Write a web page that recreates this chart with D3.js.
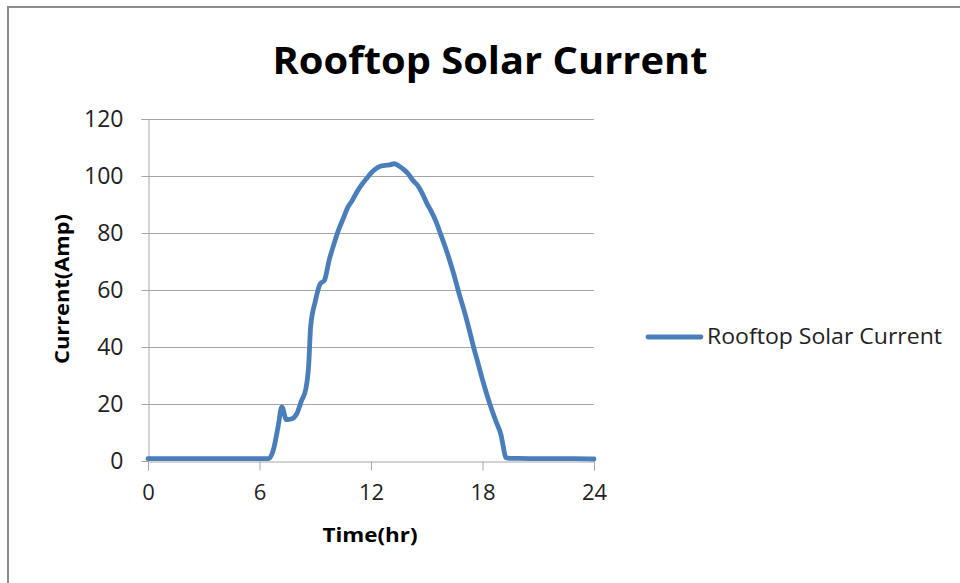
<!DOCTYPE html>
<html>
<head>
<meta charset="utf-8">
<script src="https://cdn.jsdelivr.net/npm/d3@7"></script>
<style>
  html, body { margin: 0; padding: 0; background: #fff; }
  svg { display: block; }
  text { font-family: "Open Sans", "Noto Sans", sans-serif; fill: #222; }
</style>
</head>
<body>
<svg id="chart" width="960" height="583"></svg>
<script>
// Hour of day
const hours = [
  0, 1, 2, 3, 4, 5, 6, 6.5, 6.75, 7.0, 7.2, 7.45, 7.75, 8.0, 8.25, 8.5, 8.65, 8.75,
  9.0, 9.25, 9.5, 9.75, 10.0, 10.25, 10.5, 10.75, 11.0, 11.25, 11.5, 11.75,
  12.0, 12.25, 12.5, 12.75, 13.0, 13.25, 13.5, 13.75, 14.0, 14.25, 14.5, 14.75,
  15.0, 15.25, 15.5, 15.75, 16.0, 16.25, 16.5, 16.75, 17.0, 17.25, 17.5, 17.75,
  18.0, 18.25, 18.5, 18.75, 19.0, 19.12, 19.25, 19.5, 20, 21, 22, 23, 24
];
// Rooftop solar current (A)
const current = [
  0.8, 0.8, 0.8, 0.8, 0.8, 0.8, 0.8, 0.8, 4, 12, 19, 14.5, 14.8, 16.5, 21, 25.5, 34, 47,
  56, 62, 63.5, 70.5, 76, 81, 85, 89, 91.5, 94.5, 97, 99,
  101, 102.5, 103.4, 103.7, 103.9, 104.3, 103.5, 102.3, 100.8, 98.5, 96.8, 94,
  90.5, 87.5, 84, 79.5, 75, 70, 64.5, 58.5, 53, 47, 40.5, 34.5,
  28.5, 23, 18, 13.5, 9, 5, 1.2, 0.9, 0.9, 0.8, 0.8, 0.8, 0.7
];
const xTicks = [0, 6, 12, 18, 24];
const yTicks = [0, 20, 40, 60, 80, 100, 120];
const chartTitle = "Rooftop Solar Current";
const seriesName = "Rooftop Solar Current";
const xTitle = "Time(hr)";
const yTitle = "Current(Amp)";

const svg = d3.select("#chart");
const lineColor = "#4a7ebb";
const gridColor = "#a6a6a6";

// Chart frame
svg.append("path")
  .attr("d", "M8,590 L8,7 L970,7")
  .attr("fill", "none")
  .attr("stroke", "#8c8c8c")
  .attr("stroke-width", 2);

const plot = { left: 148, right: 594, top: 119, bottom: 461 };
const x = d3.scaleLinear().domain([0, 24]).range([plot.left, plot.right]);
const y = d3.scaleLinear().domain([0, 120]).range([plot.bottom, plot.top]);

// Horizontal gridlines
svg.append("g")
  .selectAll("line")
  .data(yTicks.filter(d => d > 0))
  .join("line")
  .attr("x1", plot.left).attr("x2", plot.right)
  .attr("y1", d => Math.round(y(d)) + 0.5).attr("y2", d => Math.round(y(d)) + 0.5)
  .attr("stroke", gridColor).attr("stroke-width", 1);

// Y axis
const yAxis = svg.append("g")
  .attr("transform", `translate(${plot.left + 0.5},0)`)
  .call(d3.axisLeft(y).tickValues(yTicks).tickSize(7).tickPadding(18).tickFormat(d3.format("d")));
yAxis.select(".domain").attr("stroke", gridColor);
yAxis.selectAll(".tick line").attr("stroke", gridColor);
yAxis.selectAll(".tick text")
  .attr("font-size", 23).attr("fill", "#222")
  .style("font-family", "'Open Sans', sans-serif");

// X axis
const xAxis = svg.append("g")
  .attr("transform", `translate(0,${plot.bottom + 0.5})`)
  .call(d3.axisBottom(x).tickValues(xTicks).tickSize(9).tickPadding(14).tickFormat(d3.format("d")));
xAxis.select(".domain").attr("stroke", gridColor);
xAxis.selectAll(".tick line").attr("stroke", gridColor);
xAxis.selectAll(".tick text")
  .attr("font-size", 22).attr("fill", "#222")
  .style("font-family", "'Open Sans', sans-serif");

// Series line
const line = d3.line()
  .x((d, i) => x(hours[i]))
  .y(d => y(d))
  .curve(d3.curveMonotoneX);
svg.append("path")
  .datum(current)
  .attr("d", line)
  .attr("fill", "none")
  .attr("stroke", lineColor)
  .attr("stroke-width", 4.8)
  .attr("stroke-linejoin", "round")
  .attr("stroke-linecap", "round");

// Title
svg.append("text")
  .attr("x", 490).attr("y", 74)
  .attr("text-anchor", "middle")
  .attr("font-size", 38).attr("font-weight", "bold")
  .attr("textLength", 435).attr("lengthAdjust", "spacingAndGlyphs")
  .style("fill", "#000")
  .text(chartTitle);

// Axis titles
svg.append("text")
  .attr("x", 370).attr("y", 542)
  .attr("text-anchor", "middle")
  .attr("font-size", 20).attr("font-weight", "bold")
  .attr("textLength", 95).attr("lengthAdjust", "spacingAndGlyphs")
  .style("fill", "#000")
  .text(xTitle);

svg.append("text")
  .attr("transform", "translate(69,289) rotate(-90)")
  .attr("text-anchor", "middle")
  .attr("font-size", 20).attr("font-weight", "bold")
  .attr("textLength", 150).attr("lengthAdjust", "spacingAndGlyphs")
  .style("fill", "#000")
  .text(yTitle);

// Legend
const legend = svg.append("g");
legend.append("line")
  .attr("x1", 648).attr("x2", 701)
  .attr("y1", 337).attr("y2", 337)
  .attr("stroke", lineColor).attr("stroke-width", 4.8)
  .attr("stroke-linecap", "round");
legend.append("text")
  .attr("x", 707).attr("y", 344)
  .attr("font-size", 21)
  .attr("textLength", 235).attr("lengthAdjust", "spacingAndGlyphs")
  .text(seriesName);
</script>
</body>
</html>
